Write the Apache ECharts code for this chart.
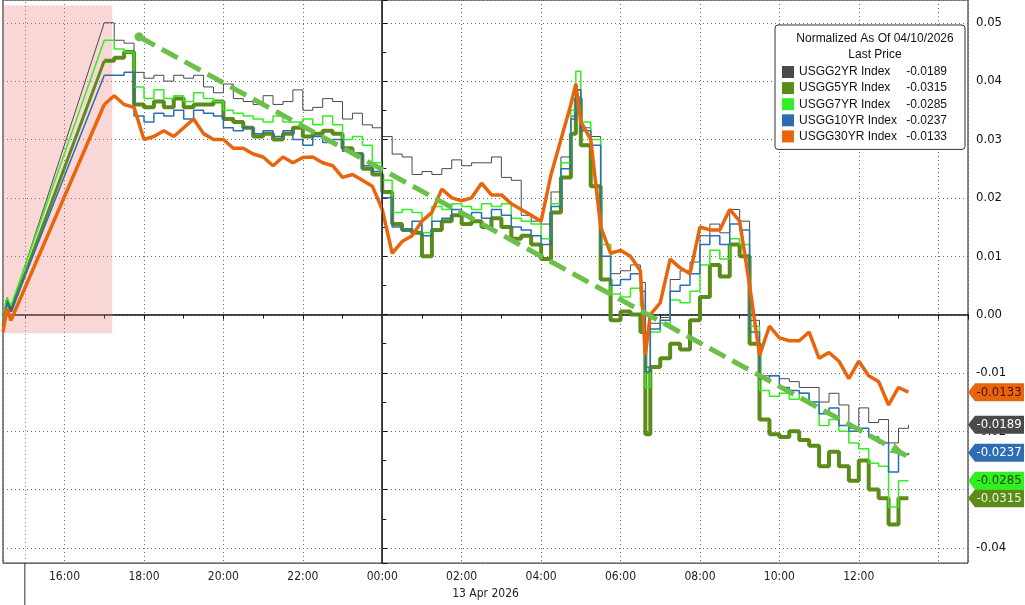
<!DOCTYPE html>
<html>
<head>
<meta charset="utf-8">
<title>USGG yields normalized</title>
<script src="https://cdn.jsdelivr.net/npm/echarts@6/dist/echarts.min.js"></script>
<style>
  html, body { margin: 0; padding: 0; background: #fff; }
  #chart { width: 1025px; height: 605px; }
</style>
</head>
<body>
<div id="chart"></div>
<script>
// hours relative to 13 Apr 2026 00:00 (first three points are the Friday close)
const hours = [
  -9.55, -9.45, -9.35,
  -7, -6.75, -6.5, -6.25, -6, -5.75, -5.5, -5.25, -5, -4.75,
  -4.5, -4.25, -4, -3.75, -3.5, -3.25, -3, -2.75, -2.5, -2.25,
  -2, -1.75, -1.5, -1.25, -1, -0.75, -0.5, -0.25, 0, 0.25,
  0.5, 0.75, 1, 1.25, 1.5, 1.75, 2, 2.25, 2.5, 2.75,
  3, 3.25, 3.5, 3.75, 4, 4.25, 4.5, 4.75,
  4.875,
  5, 5.25, 5.5, 5.75, 6, 6.25, 6.5,
  6.625,
  6.75, 7, 7.25, 7.5, 7.75, 8, 8.25, 8.5, 8.75,
  9, 9.25, 9.5, 9.75, 10, 10.25, 10.5, 10.75, 11,
  11.25, 11.5, 11.75, 12, 12.25, 12.5, 12.75, 13, 13.25
];
const sessionOpen = 3; // index of the first point after the weekend

// changes in basis points (0.01 = 1bp)
const usgg2 = [
  -0.1, 0.25, 0.1,
  5.0, 4.7, 4.65, 4.15, 4.05, 4.1, 4.0, 4.1, 4.05, 4.1,
  3.9, 3.8, 3.95, 3.7, 3.65, 3.6, 3.75, 3.6, 3.65, 3.85,
  3.5, 3.55, 3.7, 3.65, 3.35, 3.45, 3.25, 3.2, 3.05, 2.75,
  2.7, 2.4, 2.45, 2.4, 2.5, 2.65, 2.55, 2.6, 2.6, 2.7,
  2.35, 2.3, 1.7, 1.6, 1.55, 2.1, 2.7, 3.4,
  3.85,
  3.2, 3.05, 1.2, 0.7, 0.75, 0.85, 0.55,
  -0.9,
  -0.15, -0.05, 0.6, 0.75, 0.9, 1.35, 1.55, 1.4, 1.8,
  1.6, -0.1, -1.05, -1.05, -1.1, -1.15, -1.25, -1.25, -1.5,
  -1.35, -1.55, -1.95, -1.6, -1.85, -1.8, -2.2, -1.95, -1.89
];
const usgg5 = [
  -0.2, 0.25, 0.05,
  4.35, 4.4, 4.5, 3.6, 3.55, 3.65, 3.55, 3.7, 3.55, 3.6,
  3.6, 3.65, 3.35, 3.3, 3.2, 3.05, 3.1, 3.0, 3.1, 3.2,
  3.05, 3.1, 3.15, 3.1, 2.85, 2.75, 2.5, 2.4, 2.1, 1.55,
  1.45, 1.4, 1.0, 1.45, 1.6, 1.7, 1.55, 1.6, 1.5, 1.65,
  1.5, 1.3, 1.35, 1.2, 0.95, 1.75, 2.35, 3.1,
  3.7,
  2.9, 2.2, 0.6, -0.1, 0.05, 0.0, -0.3,
  -2.05,
  -0.9, -0.75, -0.5, -0.6, -0.1, 0.3, 0.85, 0.65, 1.2,
  1.0, -0.5, -1.8, -2.05, -2.1, -2.0, -2.15, -2.25, -2.6,
  -2.35, -2.6, -2.85, -2.5, -3.0, -3.15, -3.6, -3.15, -3.15
];
const usgg7 = [
  -0.1, 0.3, 0.15,
  4.7, 4.55, 4.5, 3.9, 3.7, 3.85, 3.7, 3.75, 3.65, 3.8,
  3.7, 3.65, 3.5, 3.45, 3.4, 3.35, 3.3, 3.4, 3.3, 3.3,
  3.35, 3.25, 3.4, 3.25, 3.0, 3.05, 2.9, 2.6, 2.3, 1.75,
  1.8, 1.75, 1.4, 1.85, 1.8, 1.9, 1.85, 1.8, 1.9, 1.85,
  1.9, 1.65, 1.6, 1.55, 1.3, 1.9, 2.6, 3.5,
  4.17,
  3.3, 3.0, 1.2, 0.35, 0.3, 0.45, 0.15,
  -1.25,
  -0.3, -0.15, 0.25, 0.2, 0.4, 0.85, 1.1, 0.95, 1.3,
  1.2, -0.2, -1.3, -1.4, -1.35, -1.45, -1.35, -1.55, -1.9,
  -1.8, -2.0, -2.2, -2.3, -2.55, -2.6, -3.3, -2.85, -2.85
];
const usgg10 = [
  -0.15, 0.2, 0.05,
  4.1, 4.1, 4.15, 3.4, 3.3, 3.45, 3.4, 3.5, 3.35, 3.5,
  3.45, 3.4, 3.2, 3.15, 3.2, 3.1, 3.15, 3.05, 3.15, 3.0,
  2.9, 3.05, 2.95, 3.0, 2.8, 2.75, 2.55, 2.45, 2.0, 1.5,
  1.45, 1.6, 1.35, 1.6, 1.65, 1.8, 1.7, 1.75, 1.65, 1.8,
  1.7, 1.5, 1.45, 1.35, 1.2, 1.85, 2.5, 3.35,
  3.85,
  3.15, 2.9, 1.0, 0.5, 0.6, 0.7, 0.4,
  -0.98,
  -0.25, -0.1, 0.4, 0.5, 0.7, 1.2, 1.35, 1.2, 1.55,
  1.45, -0.3, -1.1, -1.05, -1.25, -1.3, -1.35, -1.5, -1.7,
  -1.6, -1.9, -2.0, -1.95, -2.1, -2.2, -2.7, -2.4, -2.37
];
const usgg30 = [
  -0.3, 0.1, -0.1,
  3.6, 3.75, 3.6, 3.55, 3.0, 3.05, 3.15, 3.05, 3.2, 3.35,
  3.1, 3.0, 3.0, 2.85, 2.85, 2.75, 2.7, 2.55, 2.7, 2.6,
  2.69, 2.7, 2.6, 2.55, 2.35, 2.4, 2.3, 2.2, 1.8, 1.05,
  1.25, 1.35, 1.6, 1.75, 2.15, 2.0, 1.95, 2.0, 2.25, 2.05,
  2.05, 1.9, 1.8, 1.7, 1.6, 2.4, 3.0, 3.6,
  3.95,
  3.3, 3.0, 1.5, 1.05, 1.1, 1.0, 0.75,
  -0.7,
  0.0, 0.2, 0.95, 0.8, 0.7, 1.5, 1.45, 1.45, 1.8,
  1.6, 0.5, -0.7, -0.2, -0.4, -0.45, -0.45, -0.3, -0.75,
  -0.65, -0.8, -1.1, -0.8, -1.05, -1.15, -1.55, -1.25, -1.33
];

const seriesNames = ['USGG2YR Index', 'USGG5YR Index', 'USGG7YR Index', 'USGG10YR Index', 'USGG30YR Index'];
const seriesColors = ['#4a4a4a', '#5b8c1a', '#33ee22', '#2f6db3', '#e8650e'];
const tagTextColors = ['#ffffff', '#eef7e0', '#1d4d0a', '#ffffff', '#4a1200'];
const titleLines = ['Normalized As Of 04/10/2026', 'Last Price'];
const dateLabel = '13 Apr 2026';

// [hour, bp] end points of the drawn trend arrow, and the shaded weekend block
const trendArrow = [[-6.125, 4.76], [13.2, -2.42]];
const shadedSpan = [[-9.55, 5.3], [-6.8, -0.32]];

const xRange = [-9.55, 14.75];
const yRange = [-4.26, 5.39];

const narrow = "'Liberation Sans Narrow', 'DejaVu Sans Condensed', sans-serif";
const plain = "'Liberation Sans', Arial, sans-serif";

const values = [usgg2, usgg5, usgg7, usgg10, usgg30];
const widths = [1, 4, 1.5, 1.5, 3.5];
const zs = [3, 2, 3, 3, 4];
const lastOf = arr => arr[arr.length - 1];
const fmtLast = v => (v / 100).toFixed(4);
const isWhole = v => Math.abs(v - Math.round(v)) < 1e-6;
const pairs = vals => hours.map((h, j) => [h, vals[j]]);

const chart = echarts.init(document.getElementById('chart'));

const series = values.map((vals, i) => ({
  name: seriesNames[i],
  type: 'line',
  data: pairs(vals).slice(sessionOpen),
  showSymbol: false,
  step: i === 4 ? false : 'end',
  clip: false,
  z: zs[i],
  lineStyle: { width: widths[i], color: seriesColors[i] },
  itemStyle: { color: seriesColors[i] },
  emphasis: { disabled: true },
  markPoint: {
    silent: true,
    symbol: 'path://M0,9L7,0L56,0L56,18L7,18Z',
    symbolSize: [56, 18],
    symbolOffset: [28, 0],
    itemStyle: { color: seriesColors[i] },
    label: {
      show: true,
      color: tagTextColors[i],
      fontFamily: narrow,
      fontSize: 13,
      offset: [3, 0],
      formatter: () => fmtLast(lastOf(vals))
    },
    data: [{ coord: [xRange[1], lastOf(vals)] }]
  }
}));

// weekend bridge: Friday close joined straight to the Sunday open
values.forEach((vals, i) => {
  series.push({
    name: seriesNames[i] + ' weekend',
    type: 'line',
    data: pairs(vals).slice(0, sessionOpen + 1),
    showSymbol: false,
    clip: false,
    z: zs[i],
    lineStyle: { width: widths[i] === 4 ? 3 : widths[i], color: seriesColors[i] },
    itemStyle: { color: seriesColors[i] },
    emphasis: { disabled: true }
  });
});

series[0].markLine = {
  silent: true,
  symbol: 'none',
  label: { show: false },
  data: [
    { xAxis: 0, lineStyle: { color: '#333', width: 1, type: 'solid' } },
    { xAxis: -9, lineStyle: { color: '#777', width: 1, type: [1, 3] } }
  ]
};
series[0].markArea = {
  silent: true,
  itemStyle: { color: 'rgba(238, 130, 130, 0.32)' },
  data: [[{ coord: shadedSpan[0] }, { coord: shadedSpan[1] }]]
};
series[4].markLine = {
  silent: true,
  symbol: ['circle', 'arrow'],
  symbolSize: [9, 18],
  label: { show: false },
  lineStyle: { color: '#6cc04a', width: 5, type: [18, 8], opacity: 1 },
  data: [[{ coord: trendArrow[0] }, { coord: trendArrow[1] }]]
};

chart.setOption({
  animation: false,
  backgroundColor: '#fff',
  grid: { left: 0, right: 57, top: 0, bottom: 33, show: true, borderColor: '#111', borderWidth: 1 },
  title: {
    text: titleLines.join('\n'),
    left: 870,
    top: 26,
    textAlign: 'center',
    textStyle: { fontFamily: plain, fontSize: 12, fontWeight: 'normal', color: '#111', lineHeight: 16 }
  },
  legend: {
    data: seriesNames,
    orient: 'vertical',
    left: 775,
    top: 25,
    padding: [41, 18, 7, 7],
    itemWidth: 12,
    itemHeight: 12,
    itemGap: 4.1,
    icon: 'rect',
    selectedMode: false,
    backgroundColor: '#fff',
    borderColor: '#333',
    borderWidth: 1,
    borderRadius: 3,
    textStyle: {
      fontFamily: plain,
      fontSize: 12,
      color: '#111',
      rich: {
        n: { width: 100, fontFamily: plain, fontSize: 12, lineHeight: 14 },
        v: { width: 48, align: 'right', fontFamily: plain, fontSize: 12, lineHeight: 14 }
      }
    },
    formatter: name => '{n|' + name + '}{v|' + fmtLast(lastOf(values[seriesNames.indexOf(name)])) + '}'
  },
  xAxis: {
    type: 'value',
    min: xRange[0],
    max: xRange[1],
    splitNumber: 12,
    name: dateLabel,
    nameLocation: 'middle',
    nameGap: 24,
    nameTextStyle: { fontFamily: narrow, fontSize: 12, color: '#222' },
    axisLine: { lineStyle: { color: '#111', width: 1.5 } },
    axisTick: { show: true, length: 5, lineStyle: { color: '#111' } },
    minorTick: { show: true, splitNumber: 2, length: 4, lineStyle: { color: '#111' } },
    axisLabel: {
      fontFamily: narrow,
      fontSize: 12,
      color: '#222',
      margin: 8,
      formatter: v => {
        if (!isWhole(v) || v >= 14) return '';
        const hh = ((Math.round(v) % 24) + 24) % 24;
        return (hh < 10 ? '0' : '') + hh + ':00';
      }
    },
    splitLine: { show: true, lineStyle: { color: '#666', type: [1, 3] } }
  },
  yAxis: {
    type: 'value',
    position: 'right',
    min: yRange[0],
    max: yRange[1],
    splitNumber: 10,
    axisLine: { show: true, lineStyle: { color: '#111', width: 1.5 } },
    axisTick: { show: true, length: 5, lineStyle: { color: '#111' } },
    minorTick: { show: true, splitNumber: 2, length: 4, lineStyle: { color: '#111' } },
    axisLabel: {
      fontFamily: narrow,
      fontSize: 13,
      color: '#111',
      margin: 8,
      formatter: v => isWhole(v) ? (v / 100).toFixed(2) : ''
    },
    splitLine: { show: true, lineStyle: { color: '#666', type: [1, 3] } }
  },
  series: series
});

// session separator continues below the time axis
const sepX = chart.convertToPixel({ xAxisIndex: 0 }, -9);
const axisY = chart.convertToPixel({ yAxisIndex: 0 }, yRange[0]);
chart.setOption({
  graphic: [{
    type: 'line',
    silent: true,
    shape: { x1: sepX, y1: axisY, x2: sepX, y2: 605 },
    style: { stroke: '#333', lineWidth: 1 }
  }]
});
</script>
</body>
</html>
